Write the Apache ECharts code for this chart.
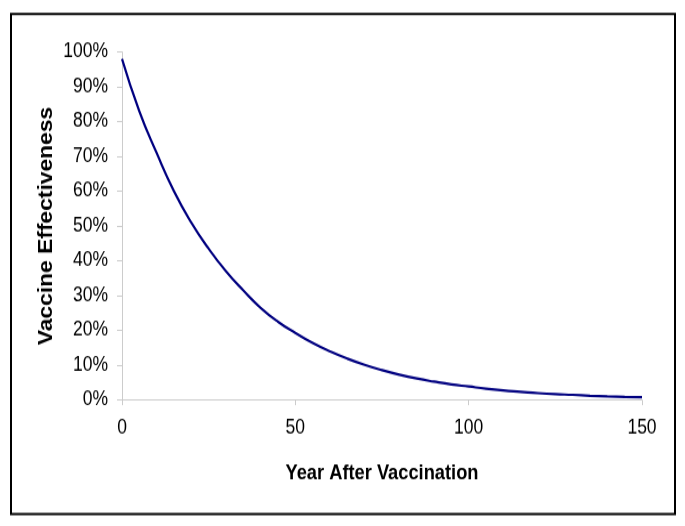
<!DOCTYPE html>
<html>
<head>
<meta charset="utf-8">
<script src="https://cdn.jsdelivr.net/npm/echarts@6/dist/echarts.min.js"></script>
<style>
html,body{margin:0;padding:0;background:#fff;}
#wrap{width:685px;height:526px;overflow:hidden;position:relative;}
#chart{width:685px;height:461px;transform:scaleY(1.141);transform-origin:0 0;}
</style>
</head>
<body>
<div id="wrap"><div id="chart"></div></div>
<script>
// Data
var years = [0,5,10,15,20,25,30,35,40,45,50,55,60,65,70,75,80,85,90,95,100,105,110,115,120,125,130,135,140,145,150];
var effectiveness = [0.98,0.83,0.71,0.60,0.51,0.435,0.37,0.315,0.265,0.225,0.193,0.164,0.14,0.119,0.101,0.086,0.073,0.062,0.053,0.045,0.039,0.033,0.028,0.024,0.020,0.017,0.015,0.0125,0.0105,0.009,0.0078];
var xTicks = [0,50,100,150];
var yTicks = [0,0.1,0.2,0.3,0.4,0.5,0.6,0.7,0.8,0.9,1.0];
var xTitle = 'Year After Vaccination';
var yTitle = 'Vaccine Effectiveness';

var chart = echarts.init(document.getElementById('chart'), null, {renderer:'canvas'});
var font = '"Liberation Sans", Arial, sans-serif';
var seriesData = years.map(function(y,i){return [y, effectiveness[i]];});
chart.setOption({
  backgroundColor:'#ffffff',
  animation:false,
  grid:{left:122,right:43,top:45.6,bottom:110.4,containLabel:false},
  graphic:[{type:'rect',shape:{x:11,y:12.3,width:664,height:438.2},style:{fill:'none',stroke:'#000',lineWidth:2},z:-1}],
  xAxis:{
    type:'value',min:xTicks[0],max:xTicks[xTicks.length-1],interval:50,
    name:xTitle,nameLocation:'middle',nameGap:55,
    nameTextStyle:{fontFamily:font,fontWeight:'bold',fontSize:18.3,color:'#000'},
    axisLine:{show:true,lineStyle:{color:'#cccccc',width:1}},
    axisTick:{show:true,inside:false,length:4.5,lineStyle:{color:'#cccccc'}},
    splitLine:{show:false},
    axisLabel:{margin:16,fontFamily:font,fontSize:17.5,color:'#000'}
  },
  yAxis:{
    type:'value',min:yTicks[0],max:yTicks[yTicks.length-1],interval:0.1,
    name:yTitle,nameLocation:'middle',nameGap:66,nameRotate:90,nameMoveOverlap:false,
    nameTextStyle:{fontFamily:font,fontWeight:'bold',fontSize:20,color:'#000'},
    axisLine:{show:true,lineStyle:{color:'#cccccc',width:1}},
    axisTick:{show:true,inside:false,length:5,lineStyle:{color:'#cccccc'}},
    splitLine:{show:false},
    axisLabel:{margin:14,fontFamily:font,fontSize:17.5,color:'#000',
      formatter:function(v){return Math.round(v*100)+'%';}}
  },
  series:[{
    type:'line',data:seriesData,smooth:true,showSymbol:false,symbol:'none',
    lineStyle:{color:'#000080',width:2.2}
  }]
});
</script>
</body>
</html>
